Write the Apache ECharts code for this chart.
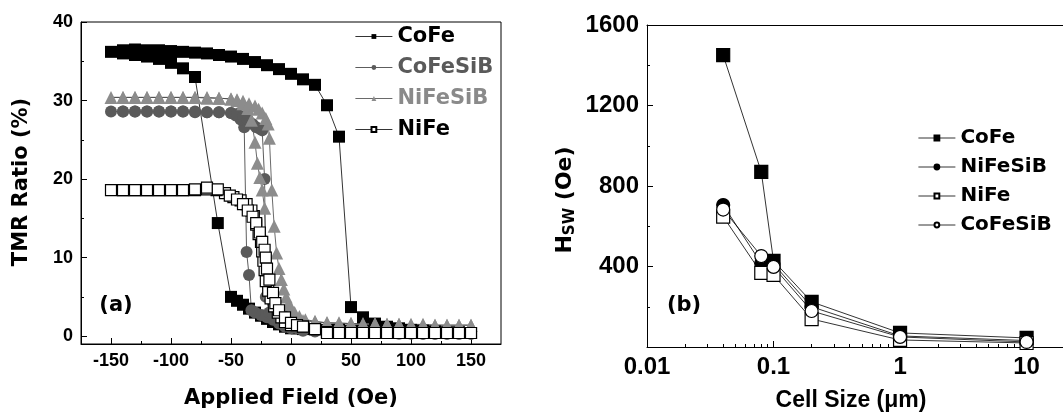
<!DOCTYPE html>
<html>
<head>
<meta charset="utf-8">
<script src="https://cdn.jsdelivr.net/npm/echarts@6.0.0/dist/echarts.min.js"></script>
<style>
  html, body { margin: 0; padding: 0; background: #fff; }
  #chart { width: 1063px; height: 413px; }
</style>
</head>
<body>
<div id="chart"></div>
<script>
// (a) TMR loops, in sweep order: +150 -> -150 -> +150 Oe
const cofeH = [150, 140, 130, 120, 110, 100, 90, 80, 70, 60, 50, 40, 30, 20, 10, 5, 0, -5, -10, -15, -20, -25, -30, -35, -40, -45, -50, -61, -80, -90, -100, -110, -120, -130, -140, -150,
  -140, -130, -120, -110, -100, -90, -80, -70, -60, -50, -40, -30, -20, -10, 0, 10, 20, 30, 40, 50, 60, 70, 80, 90, 100, 110, 120, 130, 140, 150];
const cofeR = [0.4, 0.4, 0.4, 0.4, 0.5, 0.5, 0.5, 0.6, 0.6, 0.7, 0.7, 0.8, 0.8, 0.9, 0.9, 1.0, 1.0, 1.2, 1.5, 1.8, 2.2, 2.6, 3.0, 3.5, 4.0, 4.5, 5.0, 14.4, 33.0, 34.1, 34.8, 35.3, 35.6, 35.8, 36.0, 36.2,
  36.4, 36.5, 36.4, 36.4, 36.3, 36.2, 36.1, 36.0, 35.8, 35.6, 35.3, 34.9, 34.5, 34.0, 33.4, 32.7, 32.0, 29.4, 25.4, 3.7, 2.4, 1.6, 1.2, 1.0, 0.8, 0.7, 0.6, 0.5, 0.5, 0.4];

const cofesibH = [150, 140, 130, 120, 110, 100, 90, 80, 70, 60, 50, 40, 30, 20, 10, 5, 0, -5, -10, -15, -20, -25, -30, -33, -35, -37, -39, -42, -46, -50, -60, -70, -80, -90, -100, -110, -120, -130, -140, -150,
  -140, -130, -120, -110, -100, -90, -80, -70, -60, -50, -45, -40, -36, -32, -29, -26, -24, -22, -21, -18, -15, -10, -5, 0, 10, 20, 30, 40, 50, 60, 70, 80, 90, 100, 110, 120, 130, 140, 150];
const cofesibR = [0.3, 0.3, 0.3, 0.3, 0.3, 0.4, 0.4, 0.4, 0.4, 0.5, 0.5, 0.5, 0.6, 0.7, 0.9, 1.0, 1.2, 1.5, 1.8, 2.1, 2.4, 2.7, 3.0, 3.3, 7.8, 10.7, 26.6, 27.6, 28.1, 28.4, 28.5, 28.5, 28.6, 28.6, 28.6, 28.6, 28.6, 28.6, 28.6, 28.6,
  28.6, 28.6, 28.6, 28.6, 28.6, 28.6, 28.5, 28.5, 28.5, 28.4, 28.3, 28.0, 27.6, 27.0, 26.6, 26.4, 26.2, 20.0, 5.0, 3.0, 2.2, 1.6, 1.2, 1.0, 0.7, 0.6, 0.5, 0.5, 0.4, 0.4, 0.4, 0.4, 0.3, 0.3, 0.3, 0.3, 0.3, 0.3, 0.3];

const nifesibH = [150, 140, 130, 120, 110, 100, 90, 80, 70, 60, 50, 40, 30, 20, 10, 5, 0, -5, -10, -14, -18, -20, -22, -24, -26, -28, -30, -33, -36, -40, -45, -50, -60, -70, -80, -90, -100, -110, -120, -130, -140, -150,
  -140, -130, -120, -110, -100, -90, -80, -70, -60, -50, -45, -40, -35, -30, -27, -24, -21, -19, -18, -16, -14, -12, -10, -8, -6, -4, -2, 0, 3, 7, 12, 20, 30, 40, 50, 60, 70, 80, 90, 100, 110, 120, 130, 140, 150];
const nifesibR = [1.4, 1.4, 1.4, 1.4, 1.5, 1.5, 1.5, 1.5, 1.6, 1.6, 1.6, 1.7, 1.7, 1.8, 2.0, 2.2, 2.5, 3.0, 3.6, 4.3, 5.5, 8.0, 16.3, 18.6, 20.2, 22.0, 24.7, 27.5, 29.0, 29.6, 30.0, 30.2, 30.3, 30.4, 30.4, 30.4, 30.4, 30.4, 30.4, 30.4, 30.4, 30.4,
  30.4, 30.4, 30.4, 30.4, 30.4, 30.4, 30.4, 30.3, 30.3, 30.2, 30.1, 29.9, 29.6, 29.3, 28.9, 28.4, 27.7, 27.0, 25.2, 18.6, 14.0, 10.6, 8.6, 7.2, 6.0, 5.0, 4.2, 3.6, 3.0, 2.5, 2.1, 1.9, 1.7, 1.6, 1.6, 1.5, 1.5, 1.5, 1.5, 1.4, 1.4, 1.4, 1.4, 1.4, 1.4];

const nifeH = [150, 140, 130, 120, 110, 100, 90, 80, 70, 60, 50, 40, 30, 20, 10, 0, -5, -8, -11, -14, -17, -19, -21, -22, -23, -24, -25, -27, -29, -31, -33, -37, -42, -48, -55, -62, -70, -80, -90, -100, -110, -120, -130, -140, -150,
  -140, -130, -120, -110, -100, -90, -80, -70, -61, -51, -45, -40, -36, -32, -29, -26, -24, -22, -21, -20, -18, -15, -13, -10, -5, 0, 5, 10, 20, 30, 40, 50, 60, 70, 80, 90, 100, 110, 120, 130, 140, 150];
const nifeR = [0.4, 0.4, 0.4, 0.4, 0.4, 0.4, 0.4, 0.4, 0.4, 0.4, 0.4, 0.4, 0.5, 0.9, 1.2, 1.4, 1.8, 2.4, 3.0, 3.8, 4.8, 5.8, 7.0, 8.4, 9.6, 10.8, 12.0, 13.0, 14.2, 15.3, 16.0, 16.8, 17.3, 17.7, 18.2, 18.6, 18.7, 18.6, 18.6, 18.6, 18.6, 18.6, 18.6, 18.6, 18.6,
  18.6, 18.6, 18.6, 18.6, 18.6, 18.6, 18.7, 18.9, 18.7, 17.9, 17.4, 16.8, 16.0, 15.2, 14.4, 13.2, 12.0, 11.0, 10.0, 8.6, 7.2, 5.5, 4.2, 3.3, 2.4, 1.7, 1.4, 1.2, 0.9, 0.4, 0.4, 0.4, 0.4, 0.4, 0.4, 0.4, 0.4, 0.4, 0.4, 0.4, 0.4, 0.4];

// (b) switching field (Oe) vs cell size (um)
const cellSize = [0.04, 0.08, 0.1, 0.2, 1, 10];
const hswCoFe = [1450, 870, 428, 224, 70, 45];
const hswNiFeSiB = [705, 415, 412, 200, 55, 32];
const hswNiFe = [648, 368, 358, 139, 35, 20];
const hswCoFeSiB = [683, 452, 398, 179, 50, 25];

// axis ticks
const fieldMajor = [-150, -100, -50, 0, 50, 100, 150];
const fieldMinor = [-125, -75, -25, 25, 75, 125];
const tmrMajor = [0, 10, 20, 30, 40];
const tmrMinor = [5, 15, 25, 35];
const sizeMax = 19.4; // panel (b) is cut by the picture's right edge
const sizeMajor = [0.01, 0.1, 1, 10];
const sizeMinor = [0.02, 0.03, 0.04, 0.05, 0.06, 0.07, 0.08, 0.09, 0.2, 0.3, 0.4, 0.5, 0.6, 0.7, 0.8, 0.9, 2, 3, 4, 5, 6, 7, 8, 9];
const hswMajor = [0, 400, 800, 1200, 1600];
const hswLabels = [400, 800, 1200, 1600];
const hswMinor = [200, 600, 1000, 1400];

const pairs = (xs, ys) => xs.map((x, i) => [x, ys[i]]);

const tickFont = 'Liberation Sans';
const titleFont = 'DejaVu Sans';

function majorAxis(grid, type, pos, min, max, ticks, labels, size) {
  return {
    type: type, gridIndex: grid, position: pos, min: min, max: max,
    axisLine: { onZero: false, lineStyle: { color: '#000', width: 1 } },
    axisTick: { inside: true, length: 6, customValues: ticks, lineStyle: { color: '#000', width: 1 } },
    axisLabel: {
      customValues: labels, color: '#000', fontFamily: tickFont, fontWeight: 'bold', fontSize: size, margin: 8,
      formatter: v => String(v)
    },
    splitLine: { show: false }
  };
}

function minorAxis(grid, type, pos, min, max, ticks) {
  return {
    type: type, gridIndex: grid, position: pos, min: min, max: max,
    axisLine: { show: false, onZero: false },
    axisTick: { inside: true, length: 3, customValues: ticks, lineStyle: { color: '#000', width: 1 } },
    axisLabel: { show: false },
    splitLine: { show: false }
  };
}

function loop(name, h, r, symbol, size, fill, border, line) {
  return {
    name: name, type: 'line', xAxisIndex: 0, yAxisIndex: 0,
    data: pairs(h, r),
    symbol: symbol, symbolSize: size,
    itemStyle: { color: fill, borderColor: border, borderWidth: border ? 1.2 : 0 },
    lineStyle: { color: line, width: 0.8 }
  };
}

function sizeSeries(name, values, symbol, fill, border) {
  return {
    name: name, type: 'line', xAxisIndex: 2, yAxisIndex: 2,
    data: pairs(cellSize, values),
    symbol: symbol, symbolSize: 13,
    itemStyle: { color: fill, borderColor: border, borderWidth: 1.2 },
    lineStyle: { color: '#000', width: 0.8 }
  };
}

const chart = echarts.init(document.getElementById('chart'));

chart.setOption({
  animation: false,
  backgroundColor: '#fff',
  grid: [
    { left: 81, top: 22, width: 420, height: 322, show: true, borderColor: '#000', borderWidth: 1 },
    { left: 647, top: 25, right: 0, height: 322 }
  ],
  xAxis: [
    majorAxis(0, 'value', 'bottom', -175, 175, fieldMajor, fieldMajor, 18),
    minorAxis(0, 'value', 'bottom', -175, 175, fieldMinor),
    majorAxis(1, 'log', 'bottom', 0.01, sizeMax, sizeMajor, sizeMajor, 24),
    minorAxis(1, 'log', 'bottom', 0.01, sizeMax, sizeMinor),
    // top frame line of panel (b)
    {
      type: 'log', gridIndex: 1, position: 'top', min: 0.01, max: sizeMax,
      axisLine: { onZero: false, lineStyle: { color: '#000', width: 1 } },
      axisTick: { show: false }, axisLabel: { show: false }, splitLine: { show: false }
    }
  ],
  yAxis: [
    majorAxis(0, 'value', 'left', -1, 40, tmrMajor, tmrMajor, 18),
    minorAxis(0, 'value', 'left', -1, 40, tmrMinor),
    majorAxis(1, 'value', 'left', 0, 1600, hswMajor, hswLabels, 24),
    minorAxis(1, 'value', 'left', 0, 1600, hswMinor)
  ],
  legend: [
    {
      left: 350, top: 21, orient: 'vertical', itemWidth: 37, itemHeight: 6, itemGap: 10,
      selectedMode: false,
      lineStyle: { width: 0.8 },
      textStyle: { fontFamily: titleFont, fontWeight: 'bold', fontSize: 21 },
      data: [
        { name: 'CoFe', textStyle: { color: '#000' } },
        { name: 'CoFeSiB', textStyle: { color: '#5a5a5a' } },
        { name: 'NiFeSiB', textStyle: { color: '#8a8a8a' } },
        { name: 'NiFe', textStyle: { color: '#000' } }
      ]
    },
    {
      left: 913, top: 123, orient: 'vertical', itemWidth: 37, itemHeight: 6, itemGap: 9,
      selectedMode: false,
      lineStyle: { width: 0.8 },
      formatter: n => n.replace(' (b)', ''),
      textStyle: { fontFamily: titleFont, fontWeight: 'bold', fontSize: 20, color: '#000' },
      data: ['CoFe (b)', 'NiFeSiB (b)', 'NiFe (b)', 'CoFeSiB (b)']
    }
  ],
  graphic: [
    { type: 'text', x: 22, y: 182, rotation: Math.PI / 2,
      style: { text: 'TMR Ratio (%)', fontFamily: titleFont, fontWeight: 'bold', fontSize: 21, fill: '#000', align: 'center', verticalAlign: 'middle' } },
    { type: 'text', x: 291, y: 399,
      style: { text: 'Applied Field (Oe)', fontFamily: titleFont, fontWeight: 'bold', fontSize: 21, fill: '#000', align: 'center', verticalAlign: 'middle' } },
    { type: 'text', x: 565, y: 200, rotation: Math.PI / 2,
      style: {
        text: '{h|H}{s|SW}{h| (Oe)}', align: 'center', verticalAlign: 'middle', fill: '#000',
        rich: {
          h: { fontFamily: titleFont, fontWeight: 'bold', fontSize: 22, lineHeight: 26, fill: '#000' },
          s: { fontFamily: titleFont, fontWeight: 'bold', fontSize: 15, verticalAlign: 'bottom', fill: '#000' }
        }
      } },
    { type: 'text', x: 851, y: 401,
      style: { text: 'Cell Size (μm)', fontFamily: tickFont, fontWeight: 'bold', fontSize: 23, fill: '#000', align: 'center', verticalAlign: 'middle' } },
    { type: 'text', x: 116, y: 306,
      style: { text: '(a)', fontFamily: titleFont, fontWeight: 'bold', fontSize: 21, fill: '#000', align: 'center', verticalAlign: 'middle' } },
    { type: 'text', x: 684, y: 306,
      style: { text: '(b)', fontFamily: titleFont, fontWeight: 'bold', fontSize: 21, fill: '#000', align: 'center', verticalAlign: 'middle' } }
  ],
  series: [
    loop('CoFe', cofeH, cofeR, 'rect', 12, '#000', null, '#000'),
    loop('CoFeSiB', cofesibH, cofesibR, 'circle', 12, '#5a5a5a', null, '#333'),
    loop('NiFeSiB', nifesibH, nifesibR, 'triangle', 13, '#8c8c8c', null, '#444'),
    loop('NiFe', nifeH, nifeR, 'rect', 11, '#fff', '#000', '#000'),
    sizeSeries('CoFe (b)', hswCoFe, 'rect', '#000', '#000'),
    sizeSeries('NiFeSiB (b)', hswNiFeSiB, 'circle', '#000', '#000'),
    sizeSeries('NiFe (b)', hswNiFe, 'rect', '#fff', '#000'),
    sizeSeries('CoFeSiB (b)', hswCoFeSiB, 'circle', '#fff', '#000')
  ]
});
</script>
</body>
</html>
